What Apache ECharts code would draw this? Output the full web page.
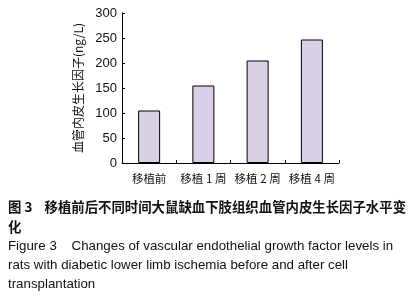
<!DOCTYPE html>
<html>
<head>
<meta charset="utf-8">
<script src="https://cdn.jsdelivr.net/npm/echarts@6/dist/echarts.min.js"></script>
<style>
  html, body { margin: 0; padding: 0; background: #fff; }
  #main { width: 419px; height: 301px; }
</style>
</head>
<body>
<div id="main"></div>
<script>
// 数据
const categories = ['移植前', '移植 1 周', '移植 2 周', '移植 4 周'];
const vegfValues = [105, 155, 205, 247];
const yTicks = [0, 50, 100, 150, 200, 250, 300];
const yName = '血管内皮生长因子(ng/L)';
const captionCn = ['图 3    移植前后不同时间大鼠缺血下肢组织血管内皮生长因子水平变', '化'];
const captionEn = [
  'Figure 3    Changes of vascular endothelial growth factor levels in',
  'rats with diabetic lower limb ischemia before and after cell',
  'transplantation'
];

const cnFont = '"Noto Sans CJK SC", "Liberation Sans", Arial, sans-serif';
const enFont = '"Liberation Sans", Arial, sans-serif';

let myChart = echarts.init(document.getElementById('main'));

let graphics = [];
captionCn.forEach((t, i) => {
  graphics.push({
    type: 'text', left: 8, top: 200 + i * 20,
    style: { text: t, font: 'bold 13.4px ' + cnFont, fill: '#111' }
  });
});
captionEn.forEach((t, i) => {
  graphics.push({
    type: 'text', left: 8, top: 240 + i * 19,
    style: { text: t, font: '13.3px ' + enFont, fill: '#111' }
  });
});

myChart.setOption({
  animation: false,
  grid: { left: 122, top: 13, right: 80, bottom: 138, containLabel: false },
  xAxis: {
    type: 'category',
    data: categories,
    boundaryGap: true,
    axisLine: { lineStyle: { color: '#000', width: 1 } },
    axisTick: { show: true, inside: true, length: 3, lineStyle: { color: '#000' } },
    axisLabel: { interval: 0, color: '#111', fontSize: 11.5, fontFamily: cnFont, margin: 10 }
  },
  yAxis: {
    type: 'value',
    min: 0, max: 300, interval: 50,
    name: yName,
    nameLocation: 'middle',
    nameGap: 34,
    nameRotate: 90,
    nameTextStyle: { color: '#111', fontSize: 12, fontFamily: cnFont },
    axisLine: { show: true, lineStyle: { color: '#000', width: 1 } },
    axisTick: { show: true, inside: true, length: 3, lineStyle: { color: '#000' } },
    splitLine: { show: false },
    axisLabel: {
      color: '#111', fontSize: 13, fontFamily: enFont, margin: 5,
      formatter: v => yTicks.indexOf(v) >= 0 ? String(v) : ''
    }
  },
  series: [{
    type: 'bar',
    data: vegfValues,
    barWidth: 22,
    itemStyle: { color: '#d9d0e7', borderColor: '#000', borderWidth: 1 }
  }],
  graphic: graphics
});
</script>
</body>
</html>
